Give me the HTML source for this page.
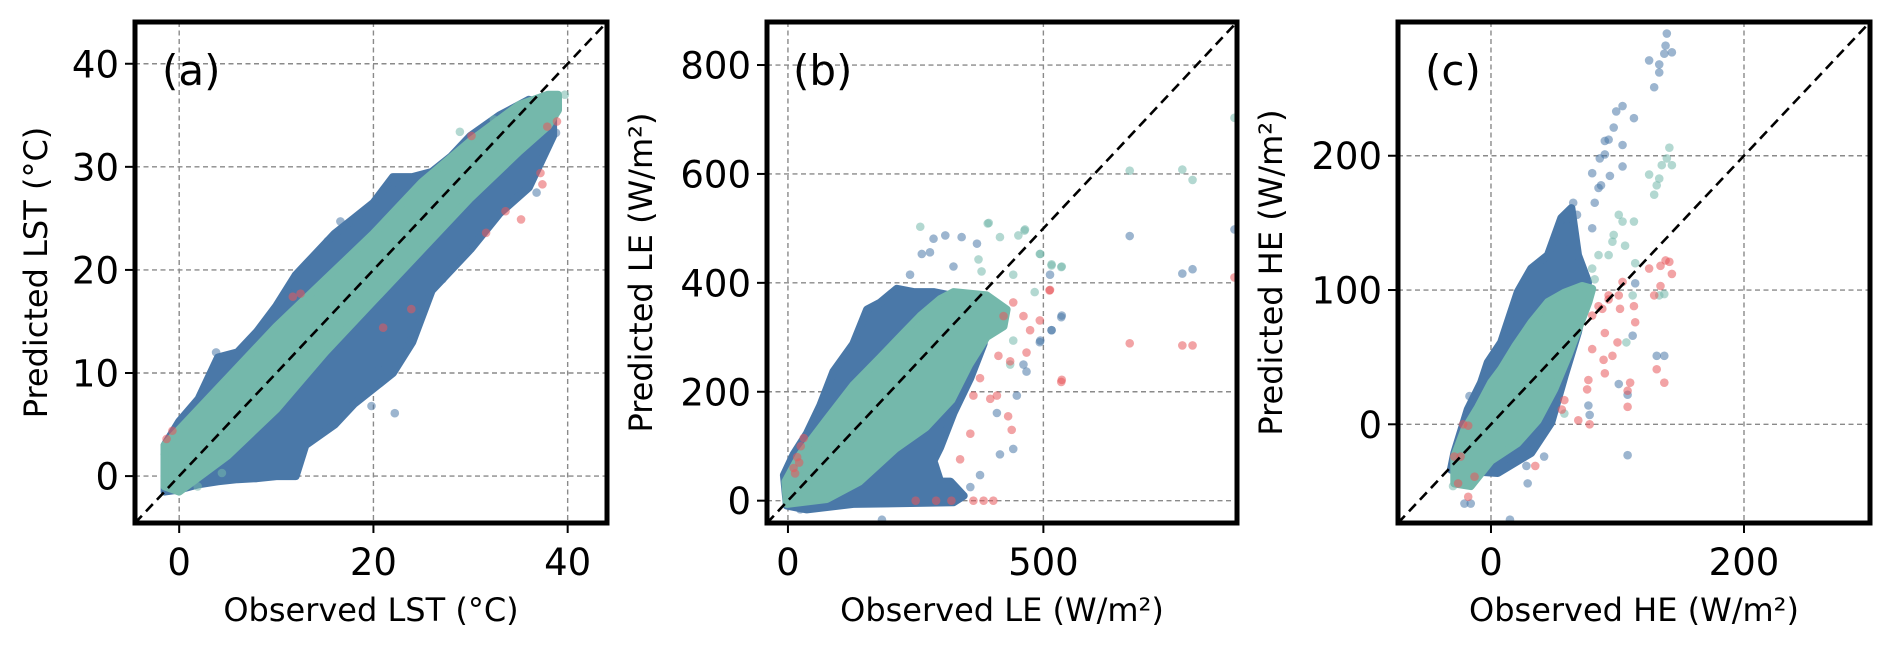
<!DOCTYPE html>
<html><head><meta charset="utf-8"><style>
html,body{margin:0;padding:0;background:#fff;}
svg{display:block;font-family:"DejaVu Sans","Liberation Sans",sans-serif;}
</style></head><body>
<svg id="fig" width="1892" height="645" viewBox="0 0 1892 645" xmlns="http://www.w3.org/2000/svg"></svg>
<script>
// ---------- Panel (a) LST ----------
const aTicks = [0, 20, 40];
const aYTicks = [0, 10, 20, 30, 40];
const aBlueObs = [-1.5, 0, 2, 4, 6, 8, 10, 12, 13, 16, 18, 20, 22, 24, 26, 28, 30, 33, 36, 38.5];
const aBlueHi = [3, 5.3, 7.5, 11.5, 12, 14, 16.5, 19.5, 20.5, 23.5, 25, 26.5, 29, 29, 29.5, 31, 33, 35, 36.5, 36];
const aBlueLo = [-1.5, -1.3, -0.8, -0.5, -0.3, -0.2, 0, 0, 3, 5, 7, 8.5, 10, 13, 18, 20, 22, 25.5, 28, 33];
const aTealObs = [-1.5, 0, 5, 10, 15, 20, 25, 30, 35, 38, 39];
const aTealLo = [-1, -1.5, 2, 6.5, 12, 17, 22, 27, 31.5, 34, 35.5];
const aTealHi = [3, 4.5, 9.5, 14.5, 19, 23.5, 28.5, 32.5, 36, 37, 37];
const aBlueOutX = [22.2, 19.8, 20.6, 23.7, 16.6, 18.2, 15.3, 22.2, 27.1, 29.5, 36.8, 38.8, -1.3, -1.1, 3.8];
const aBlueOutY = [6.1, 6.8, 10.3, 13.1, 24.7, 24.7, 22.8, 28.5, 19.1, 22.3, 27.5, 33.3, -0.5, 1, 12];
const aTealOutX = [28.9, 32.4, 38.9, 39.7, -1.3, -1.5, 1.9, 4.4];
const aTealOutY = [33.4, 34.6, 36.7, 37, 2.6, 2.1, -1, 0.3];
const aRedX = [35.2, 31.6, 37.2, 37.4, 38.9, 37.9, 30.1, 11.7, 12.5, 21, 23.9, -1.3, -0.7, 33.6];
const aRedY = [24.9, 23.6, 29.4, 28.3, 34.4, 33.9, 33, 17.4, 17.7, 14.4, 16.2, 3.6, 4.4, 25.7];

// ---------- Panel (b) LE ----------
const bTicks = [0, 500];
const bYTicks = [0, 200, 400, 600, 800];
const bBlueObs = [-8, -2, 37, 128, 324, 344, 318, 298, 285, 298, 324, 357, 383, 389, 357, 318, 285, 246, 213, 181, 155, 128, 89, 63, 37, 11];
const bBluePred = [47, -9, -16, -6, -3, 9, 35, 35, 73, 98, 161, 225, 288, 339, 364, 377, 383, 383, 389, 364, 351, 288, 237, 174, 123, 85];
const bTealObs = [-5, -2, 76, 140, 210, 270, 320, 355, 389, 422, 428, 389, 324, 298, 259, 226, 181, 128, 76, 24];
const bTealPred = [35, -6, 3, 35, 95, 135, 185, 250, 301, 320, 351, 377, 383, 370, 339, 307, 263, 212, 149, 85];
const bBlueOutX = [285, 308, 340, 370, 278, 262, 239, 324, 513, 536, 494, 516, 461, 467, 415, 441, 376, 357, 184, 24, 409, 448, 669, 772, 792, 874, 535, 493, 516];
const bBlueOutY = [481, 487, 484, 472, 456, 453, 415, 430, 415, 340, 294, 313, 250, 237, 85, 95, 47, 25, -35, -16, 161, 193, 486, 417, 425, 498, 337, 291, 313];
const bTealOutX = [259, 393, 415, 451, 464, 494, 516, 536, 373, 379, 441, 483, 441, 435, 669, 772, 792, 874, 535, 516, 391, 493, 463];
const bTealOutY = [503, 510, 484, 487, 498, 453, 434, 430, 443, 421, 415, 383, 294, 250, 606, 608, 589, 703, 429, 432, 509, 453, 496];
const bRedX = [513, 441, 461, 422, 474, 467, 435, 412, 409, 396, 438, 431, 337, 536, 357, 376, 363, 669, 772, 792, 874, 535, 512, 493, 363, 383, 402, 320, 290, 250, 11, 18, 25, 31, 14, 22];
const bRedY = [387, 364, 339, 339, 313, 272, 256, 266, 193, 187, 130, 155, 76, 222, 123, 225, 193, 289, 285, 285, 410, 218, 386, 331, 0, 0, 0, 0, 0, 0, 60, 80, 100, 115, 50, 70];

// ---------- Panel (c) HE ----------
const cTicks = [0, 200];
const cYTicks = [0, 100, 200];
const cBlueObs = [-31.7, 5.4, 31.8, 47.6, 58.3, 68.8, 76.8, 68.8, 63.6, 55.6, 45, 31.8, 21.2, 8, -2.6, -7.9, -18.4, -29];
const cBluePred = [-33.8, -36.3, -21.3, 1.2, 36.2, 68.7, 106, 126, 161, 153.6, 126, 116, 98.6, 61, 46, 31, 11, -21.3];
const cTealObs = [-29, -16, 0, 21, 37, 50, 61, 69, 77, 80, 72, 58, 45, 32, 19, 8, 0, -10, -21, -29];
const cTealPred = [-44, -46, -27, -14, 3, 26, 51, 71, 91, 101, 103, 98, 91, 76, 58, 41, 31, 13, -4, -24];
const cBlueOutX = [65, 68, 60, 80, 58, 80, 82, 85, 87, 94, 90, 86, 104, 93, 97, 90, 104, 99, 104, 113, 125, 133, 129, 133, 137, 138, 139, 143, -17, 29, 15, 108, 131, 137, 112, 101, 108, 77, 78, 114, -21, -16, 42, 28];
const cBlueOutY = [165, 156, 153, 146, 136, 187, 165, 176, 178, 185, 201, 198, 192, 212, 221, 211, 208, 233, 237, 228, 271, 268, 251, 262, 276, 282, 291, 277, 21, -44, -71, -23, 51, 51, 66, 30, 22, 14, 7, 105, -59, -59, -24, -31];
const cTealOutX = [101, 104, 113, 97, 96, 93, 106, 114, 85, 80, 82, 125, 133, 129, 131, 135, 139, 141, 143, 133, 137, 112, 107, 58, -30];
const cTealOutY = [156, 151, 151, 141, 136, 126, 133, 120, 126, 116, 108, 186, 183, 171, 178, 193, 198, 206, 193, 96, 97, 96, 61, 8, -46];
const cRedX = [138, 141, 134, 143, 125, 134, 129, 104, 102, 113, 114, 90, 100, 80, 96, 89, 90, 110, 108, 108, 131, 137, 69, 78, 77, 76, 85, 93, 58, 56, -24, -29, -26, -22, -18, 35, -13, -18, 80, 88, 93, 101];
const cRedY = [122, 121, 118, 112, 116, 103, 96, 106, 86, 88, 76, 68, 61, 56, 51, 48, 38, 31, 25, 13, 41, 31, 3, 0, 33, 26, 88, 96, 18, 11, -24, -24, -44, 0, -1, -31, -39, -54, 81, 86, 93, 96];

const BLUE = "#4a78a8", TEAL = "#74b8ab", RED = "#e8585b";
const NS = "http://www.w3.org/2000/svg";
const svg = document.getElementById("fig");

function el(tag, attrs, parent) {
  const e = document.createElementNS(NS, tag);
  for (const k in attrs) e.setAttribute(k, attrs[k]);
  (parent || svg).appendChild(e);
  return e;
}

function makePanel(p) {
  const sx = v => p.left + (v - p.min) / (p.max - p.min) * (p.right - p.left);
  const sy = v => p.bottom - (v - p.min) / (p.max - p.min) * (p.bottom - p.top);
  const g = el("g", {});
  
  
  const clip = el("clipPath", { id: p.id + "-clip" }, g);
  el("rect", { x: p.left, y: p.top, width: p.right - p.left, height: p.bottom - p.top }, clip);

  const grid = el("g", { stroke: "#8a8a8a", "stroke-width": 1.4, "stroke-dasharray": "5 3.5" }, g);
  
  
  p.xt.forEach(t => { el("line", { x1: sx(t), x2: sx(t), y1: p.top, y2: p.bottom }, grid); });
  p.yt.forEach(t => { el("line", { x1: p.left, x2: p.right, y1: sy(t), y2: sy(t) }, grid); });

  const plot = el("g", { "clip-path": "url(#" + p.id + "-clip)" }, g);
  
  

  function poly(xs, ys, color, name) {
    const pts = xs.map((x, i) => sx(x).toFixed(1) + "," + sy(ys[i]).toFixed(1)).join(" ");
    const e = el("polygon", { points: pts, fill: color, stroke: color, "stroke-width": 8, "stroke-linejoin": "round" }, plot);
    
    
  }
  function band(xs, lo, hi, color, name) {
    const X = xs.concat(xs.slice().reverse());
    const Y = hi.concat(lo.slice().reverse());
    poly(X, Y, color, name);
  }
  function dots(xs, ys, color, name) {
    const gg = el("g", { fill: color, "fill-opacity": 0.55 }, plot);
    
    
    xs.forEach((x, i) => {
      const c = el("circle", { cx: sx(x), cy: sy(ys[i]), r: 4.3 }, gg);
      
      
    });
  }
  p.draw(band, poly, dots);

  const d = el("line", { x1: sx(p.min), y1: sy(p.min), x2: sx(p.max), y2: sy(p.max), stroke: "#000", "stroke-width": 2.6, "stroke-dasharray": "10 6" }, plot);
  
  

  const fr = el("rect", { x: p.left, y: p.top, width: p.right - p.left, height: p.bottom - p.top, fill: "none", stroke: "#000", "stroke-width": 5 }, g);
  
  

  p.xt.forEach(t => {
    el("line", { x1: sx(t), x2: sx(t), y1: p.bottom + 2, y2: p.bottom + 10, stroke: "#000", "stroke-width": 2 }, g);
    const tx = el("text", { x: sx(t), y: 575, "font-size": 37, "text-anchor": "middle" }, g);
    tx.textContent = t;
    
    
  });
  p.yt.forEach(t => {
    el("line", { x1: p.left - 10, x2: p.left - 2, y1: sy(t), y2: sy(t), stroke: "#000", "stroke-width": 2 }, g);
    const ty = el("text", { x: p.left - 16, y: sy(t) + 13.5, "font-size": 37, "text-anchor": "end" }, g);
    ty.textContent = t;
    
    
  });
  const xl = el("text", { x: (p.left + p.right) / 2, y: 621, "font-size": 32, "text-anchor": "middle" }, g);
  xl.textContent = p.xlabel;
  
  
  const cy = (p.top + p.bottom) / 2;
  const yl = el("text", { x: p.ylx + 12, y: cy, "font-size": 32, "text-anchor": "middle", transform: "rotate(-90 " + (p.ylx + 12) + " " + cy + ")" }, g);
  yl.textContent = p.ylabel;
  
  
  const pl = el("text", { x: p.tagx, y: 85, "font-size": 42 }, g);
  pl.textContent = p.tag;
  
  
}

makePanel({
  id: "lst", left: 135, right: 607, top: 22, bottom: 523, min: -4.55, max: 44.05,
  xt: aTicks, yt: aYTicks, xlabel: "Observed LST (°C)", ylabel: "Predicted LST (°C)", ylx: 35, tag: "(a)", tagx: 162,
  draw: (band, poly, dots) => {
    band(aBlueObs, aBlueLo, aBlueHi, BLUE, "lst-blue-cloud");
    dots(aBlueOutX, aBlueOutY, BLUE, "lst-blue-outliers");
    band(aTealObs, aTealLo, aTealHi, TEAL, "lst-teal-cloud");
    dots(aTealOutX, aTealOutY, TEAL, "lst-teal-outliers");
    dots(aRedX, aRedY, RED, "lst-red-points");
  }
});
makePanel({
  id: "le", left: 767, right: 1237, top: 22, bottom: 523, min: -41, max: 879,
  xt: bTicks, yt: bYTicks, xlabel: "Observed LE (W/m²)", ylabel: "Predicted LE (W/m²)", ylx: 640, tag: "(b)", tagx: 793,
  draw: (band, poly, dots) => {
    poly(bBlueObs, bBluePred, BLUE, "le-blue-cloud");
    dots(bBlueOutX, bBlueOutY, BLUE, "le-blue-outliers");
    poly(bTealObs, bTealPred, TEAL, "le-teal-cloud");
    dots(bTealOutX, bTealOutY, TEAL, "le-teal-outliers");
    dots(bRedX, bRedY, RED, "le-red-points");
  }
});
makePanel({
  id: "he", left: 1398, right: 1870, top: 22, bottom: 523, min: -73.5, max: 299.6,
  xt: cTicks, yt: cYTicks, xlabel: "Observed HE (W/m²)", ylabel: "Predicted HE (W/m²)", ylx: 1270, tag: "(c)", tagx: 1425,
  draw: (band, poly, dots) => {
    poly(cBlueObs, cBluePred, BLUE, "he-blue-cloud");
    dots(cBlueOutX, cBlueOutY, BLUE, "he-blue-outliers");
    poly(cTealObs, cTealPred, TEAL, "he-teal-cloud");
    dots(cTealOutX, cTealOutY, TEAL, "he-teal-outliers");
    dots(cRedX, cRedY, RED, "he-red-points");
  }
});
</script>
</body></html>
